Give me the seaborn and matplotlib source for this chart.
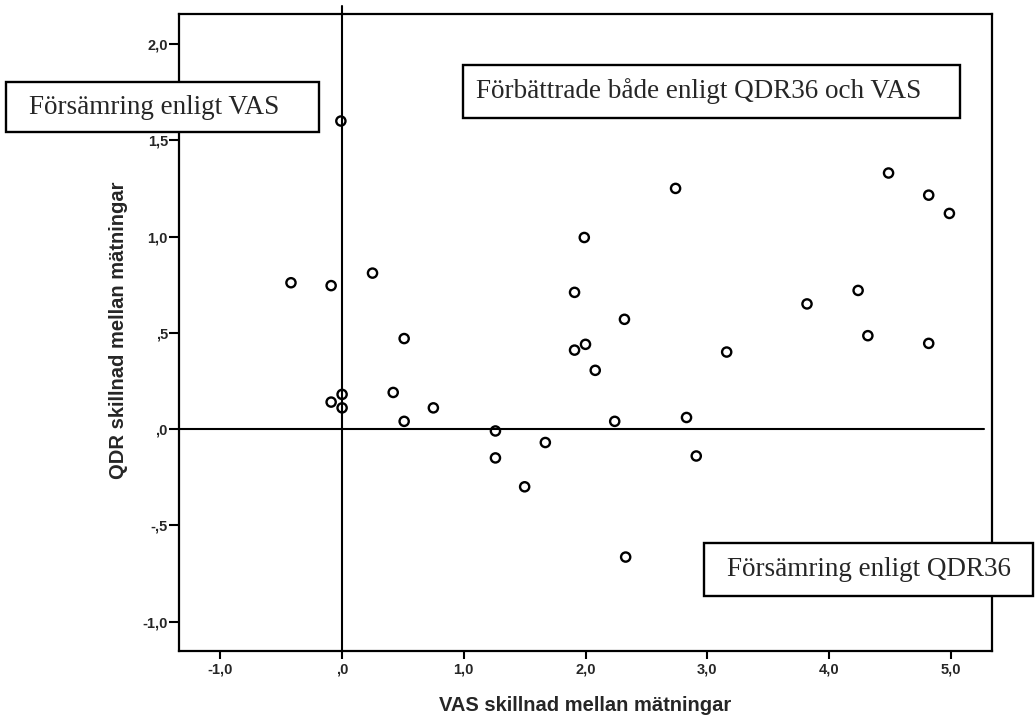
import matplotlib
matplotlib.use("Agg")
import matplotlib.pyplot as plt
import seaborn as sns
import pandas as pd
from matplotlib.patches import Rectangle

# ---- data ----
vas = [-0.42, -0.09, 0.25, -0.01, 0.51, 0.42, 0.00, -0.09, 0.00, 0.75,
       0.51, 1.26, 1.26, 1.50, 1.67, 1.99, 1.91, 1.91, 2.00, 2.08,
       2.32, 2.24, 2.33, 2.74, 2.83, 2.91, 3.16, 3.82, 4.24, 4.32,
       4.49, 4.82, 4.99, 4.82]
qdr = [0.76, 0.745, 0.81, 1.60, 0.47, 0.19, 0.18, 0.14, 0.11, 0.11,
       0.04, -0.01, -0.15, -0.30, -0.07, 0.995, 0.71, 0.41, 0.44, 0.305,
       0.57, 0.04, -0.665, 1.25, 0.06, -0.14, 0.40, 0.65, 0.72, 0.485,
       1.33, 1.215, 1.12, 0.445]

x_ticks = [-1.0, 0.0, 1.0, 2.0, 3.0, 4.0, 5.0]
x_tick_labels = ["-1,0", ",0", "1,0", "2,0", "3,0", "4,0", "5,0"]
y_ticks = [-1.0, -0.5, 0.0, 0.5, 1.0, 1.5, 2.0]
y_tick_labels = ["-1,0", "-,5", ",0", ",5", "1,0", "1,5", "2,0"]

x_label = "VAS skillnad mellan mätningar"
y_label = "QDR skillnad mellan mätningar"
box_texts = ["Försämring enligt VAS",
             "Förbättrade både enligt QDR36 och VAS",
             "Försämring enligt QDR36"]

df = pd.DataFrame({"vas": vas, "qdr": qdr})

sns.set_style("white")
plt.rcParams["font.family"] = ["Liberation Sans", "DejaVu Sans"]

W, H = 1036, 718
AX_L, AX_R, AX_T, AX_B = 179, 992, 14, 651
fig = plt.figure(figsize=(W / 100, H / 100), dpi=100)
ax = fig.add_axes([AX_L / W, 1 - AX_B / H, (AX_R - AX_L) / W, (AX_B - AX_T) / H])

sns.scatterplot(data=df, x="vas", y="qdr", ax=ax, marker="o", s=44,
                facecolors="none", edgecolor="black", linewidth=1.7,
                zorder=3)

ax.set_xlim(-1.34, 5.34)
ax.set_ylim(-1.153, 2.156)
ax.set_xticks(x_ticks)
ax.set_xticklabels(x_tick_labels, fontsize=10.5, fontweight="bold")
ax.set_yticks(y_ticks)
ax.set_yticklabels(y_tick_labels, fontsize=10.5, fontweight="bold")
ax.tick_params(axis="x", direction="out", length=6, width=1.5,
               color="black", pad=2, bottom=True)
ax.tick_params(axis="y", direction="out", length=7, width=1.5,
               color="black", pad=1, left=True)

for sp in ax.spines.values():
    sp.set_color("black")
    sp.set_linewidth(1.6)

ax.axvline(0, ymin=0, ymax=(AX_B - 6) / (AX_B - AX_T), color="black",
           linewidth=1.5, clip_on=False, zorder=2)
ax.axhline(0, xmin=0, xmax=(984 - AX_L) / (AX_R - AX_L), color="black",
           linewidth=1.5, zorder=2)

ax.set_xlabel(x_label, fontsize=14.5, fontweight="bold")
ax.set_ylabel(y_label, fontsize=14.5, fontweight="bold")
ax.xaxis.set_label_coords((585 - AX_L) / (AX_R - AX_L), (AX_B - 696) / (AX_B - AX_T))
ax.yaxis.set_label_coords((128 - AX_L) / (AX_R - AX_L), (AX_B - 330) / (AX_B - AX_T))

# annotation boxes (pixel rectangles from the reference) and text starts
boxes = [(6, 82, 319, 132), (463, 65, 960, 118), (704, 543, 1033, 596)]
text_x = [29, 476, 727]
for (x0, y0, x1, y1), tx, t in zip(boxes, text_x, box_texts):
    fig.patches.append(Rectangle((x0 / W, 1 - y1 / H), (x1 - x0) / W,
                                 (y1 - y0) / H, transform=fig.transFigure,
                                 facecolor="white", edgecolor="black",
                                 linewidth=1.7, zorder=5))
    fig.text(tx / W, 1 - (y0 + y1) / 2 / H, t,
             ha="left", va="center", fontsize=19.5,
             family=["Liberation Serif", "DejaVu Serif"], zorder=6)

fig.savefig("out.png", dpi=100, facecolor="white")
